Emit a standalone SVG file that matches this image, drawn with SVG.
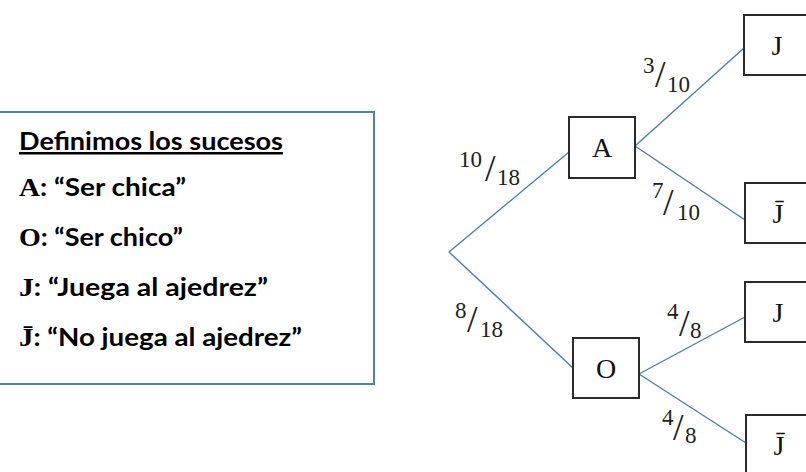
<svg xmlns="http://www.w3.org/2000/svg" width="806" height="472" viewBox="0 0 806 472">
<style>
.panel{fill:#fff;stroke:#4f81bd;stroke-width:2}
.def{font-family:Lato,"Open Sans","Liberation Sans",sans-serif;font-weight:bold;font-size:25px;fill:#000}
.ser{font-family:"Liberation Serif","DejaVu Serif",serif;font-weight:bold;font-size:26px}
.box{fill:#fff;stroke:#2b2b2b;stroke-width:2}
.lbl{font-family:"Liberation Serif","DejaVu Serif",serif;font-size:28px;fill:#111;text-anchor:middle}
.edge{stroke:#4a7ebb;stroke-width:1.4;fill:none}
.num{font-family:"Liberation Serif","DejaVu Serif",serif;font-size:23px;fill:#222}
.sl{font-family:"Liberation Serif","DejaVu Serif",serif;font-size:38px;fill:#222}
</style>
<rect width="806" height="472" fill="#fff"/>
<g id="legend">
<rect class="panel" x="-2" y="112" width="376" height="272"/>
<text class="def" x="19" y="150" text-decoration="underline" textLength="264" lengthAdjust="spacingAndGlyphs">Definimos los sucesos</text>
<text class="def" x="19" y="196" textLength="167" lengthAdjust="spacingAndGlyphs"><tspan class="ser">A</tspan>: “Ser chica”</text>
<text class="def" x="19" y="246" textLength="164" lengthAdjust="spacingAndGlyphs"><tspan class="ser">O</tspan>: “Ser chico”</text>
<text class="def" x="19" y="296" textLength="249" lengthAdjust="spacingAndGlyphs"><tspan class="ser">J</tspan>: “Juega al ajedrez”</text>
<text class="def" x="19" y="346" textLength="283" lengthAdjust="spacingAndGlyphs"><tspan class="ser">J̄</tspan>: “No juega al ajedrez”</text>
</g>
<g id="connectors">
<line class="edge" x1="449" y1="252" x2="569" y2="152"/>
<line class="edge" x1="449" y1="252" x2="573" y2="368"/>
<line class="edge" x1="635" y1="146" x2="744" y2="48"/>
<line class="edge" x1="635" y1="146" x2="745" y2="220"/>
<line class="edge" x1="639" y1="374" x2="745" y2="317"/>
<line class="edge" x1="639" y1="374" x2="746" y2="443"/>
</g>
<g id="edge-labels">
<g id="p-A"><text class="num" x="459" y="167">10</text><text class="sl" x="485" y="181">/</text><text class="num" x="497" y="185">18</text></g>
<g id="p-O"><text class="num" x="455" y="318">8</text><text class="sl" x="467" y="332">/</text><text class="num" x="480" y="337">18</text></g>
<g id="p-AJ"><text class="num" x="643" y="73">3</text><text class="sl" x="655" y="87">/</text><text class="num" x="667" y="92">10</text></g>
<g id="p-AnJ"><text class="num" x="652" y="198">7</text><text class="sl" x="663" y="215">/</text><text class="num" x="677" y="220">10</text></g>
<g id="p-OJ"><text class="num" x="667" y="319">4</text><text class="sl" x="679" y="336">/</text><text class="num" x="690" y="338">8</text></g>
<g id="p-OnJ"><text class="num" x="662" y="425">4</text><text class="sl" x="673" y="440">/</text><text class="num" x="685" y="443">8</text></g>
</g>
<g id="node-A"><rect class="box" x="569" y="117" width="66" height="61"/><text class="lbl" x="602" y="157">A</text></g>
<g id="node-O"><rect class="box" x="573" y="338" width="66" height="60"/><text class="lbl" x="606" y="378">O</text></g>
<g id="node-AJ"><rect class="box" x="744" y="15" width="66" height="60"/><text class="lbl" x="777" y="55">J</text></g>
<g id="node-AnJ"><rect class="box" x="745" y="183" width="66" height="60"/><text class="lbl" x="778" y="223">J̄</text></g>
<g id="node-OJ"><rect class="box" x="745" y="282" width="66" height="60"/><text class="lbl" x="778" y="322">J</text></g>
<g id="node-OnJ"><rect class="box" x="746" y="415" width="66" height="60"/><text class="lbl" x="779" y="455">J̄</text></g>
</svg>
